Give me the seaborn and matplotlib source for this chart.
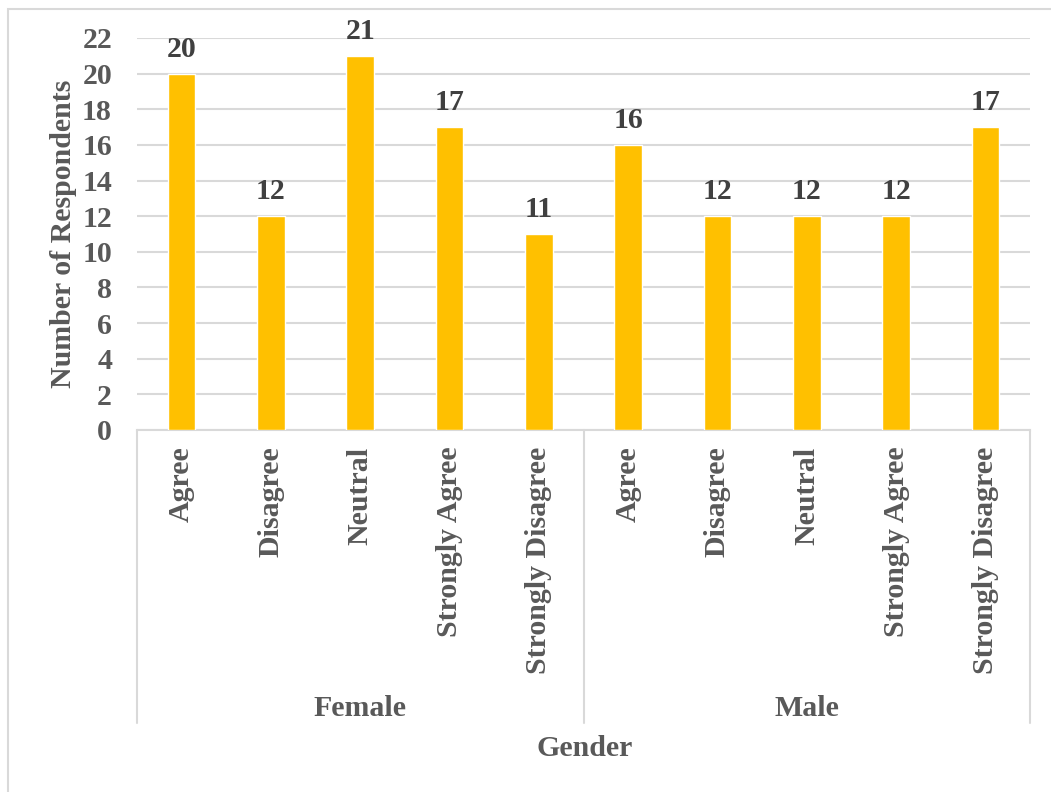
import matplotlib
matplotlib.use("Agg")
import matplotlib.pyplot as plt
from matplotlib.lines import Line2D
from matplotlib.patches import Rectangle
import seaborn as sns
import pandas as pd

# Survey responses by gender
genders = ["Female", "Male"]
responses = ["Agree", "Disagree", "Neutral", "Strongly Agree", "Strongly Disagree"]
female_counts = [20, 12, 21, 17, 11]
male_counts = [16, 12, 12, 12, 17]

rows = []
for g, counts in zip(genders, [female_counts, male_counts]):
    for r, c in zip(responses, counts):
        rows.append({"Gender": g, "Response": r, "Key": f"{g}|{r}", "Count": c})
df = pd.DataFrame(rows)

sns.set_theme(style="white")
plt.rcParams["font.family"] = ["Liberation Serif", "DejaVu Serif"]
plt.rcParams["font.weight"] = "bold"

TEXT = "#595959"
GRID = "#d9d9d9"
BAR = "#FFC000"
FS = 21.5

W, H = 1051, 792
fig = plt.figure(figsize=(W / 100, H / 100), dpi=100)
ax = fig.add_axes([137 / W, 1 - 430 / H, (1030 - 137) / W, (430 - 38) / H])

sns.barplot(data=df, x="Key", y="Count", order=list(df["Key"]), color=BAR,
            width=0.31, saturation=1, ax=ax, zorder=3)

ax.set_ylim(0, 22)
ax.set_yticks(range(0, 23, 2))
ax.set_xlim(-0.5, len(df) - 0.5)
ax.yaxis.grid(True, color=GRID, linewidth=1.5, zorder=0)
ax.set_axisbelow(True)
for s in ["top", "right", "left"]:
    ax.spines[s].set_visible(False)
ax.spines["bottom"].set_color(GRID)
ax.spines["bottom"].set_linewidth(1.5)

ax.tick_params(axis="y", length=0, pad=18, labelsize=FS, labelcolor=TEXT)
ax.tick_params(axis="x", length=0, pad=12, labelsize=FS, labelcolor=TEXT)
for lab in ax.get_yticklabels():
    lab.set_fontweight("bold")
ax.set_xticks(range(len(df)))
ax.set_xticklabels(df["Response"], rotation=90, va="top", ha="center",
                   fontweight="bold")
ax.set_xlabel("")
ax.set_ylabel("Number of Respondents", fontsize=FS, fontweight="bold",
              color=TEXT)
ax.yaxis.set_label_coords((77 - 137) / (1030 - 137), 0.5)

# Value labels above each bar
for patch, val in zip(ax.patches, df["Count"]):
    ax.annotate(f"{val}", (patch.get_x() + patch.get_width() / 2, val),
                xytext=(0, 8), textcoords="offset points", ha="center",
                va="bottom", fontsize=FS, fontweight="bold", color="#404040")

# Group separators and group labels below the category labels
y_top = 1 - 430 / H
y_bot = 1 - 723 / H
for xp in [137, 584, 1030]:
    fig.add_artist(Line2D([xp / W, xp / W], [y_top, y_bot], color=GRID,
                          linewidth=1.5, transform=fig.transFigure))
n = len(responses)
for i, g in enumerate(genders):
    center = i * n + (n - 1) / 2
    xfig = fig.transFigure.inverted().transform(
        ax.transData.transform((center, 0)))[0]
    fig.text(xfig, 1 - 708 / H, g, ha="center", va="center", fontsize=FS,
             fontweight="bold", color=TEXT)

fig.text(585 / W, 1 - 748 / H, "Gender", ha="center", va="center",
         fontsize=FS, fontweight="bold", color=TEXT)

# Chart area frame
fig.add_artist(Rectangle((8 / W, -0.1), 1.2, 1 - 9 / H + 0.1, fill=False,
                         edgecolor=GRID, linewidth=1.5,
                         transform=fig.transFigure))

fig.savefig("out.png", dpi=100)
